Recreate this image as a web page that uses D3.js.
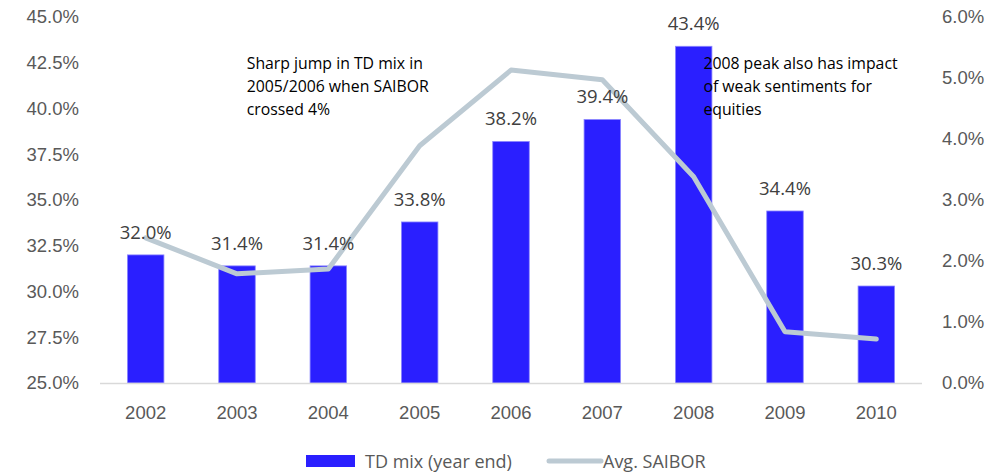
<!DOCTYPE html>
<html>
<head>
<meta charset="utf-8">
<script src="https://cdn.jsdelivr.net/npm/d3@7"></script>
<style>
  body { margin: 0; background: #fff; }
  svg { display: block; font-family: "Open Sans", "Liberation Sans", sans-serif; }
</style>
</head>
<body>
<svg id="chart" width="999" height="472"></svg>
<script>
var years = ["2002", "2003", "2004", "2005", "2006", "2007", "2008", "2009", "2010"];
var tdMix = [32.0, 31.4, 31.4, 33.8, 38.2, 39.4, 43.4, 34.4, 30.3];
var saibor = [2.38, 1.79, 1.87, 3.89, 5.13, 4.97, 3.38, 0.84, 0.72];
var leftTicks = [25, 27.5, 30, 32.5, 35, 37.5, 40, 42.5, 45];
var rightTicks = [0, 1, 2, 3, 4, 5, 6];
var notes = [
  {year: "2003", lines: ["Sharp jump in TD mix in", "2005/2006 when SAIBOR", "crossed 4%"]},
  {year: "2008", lines: ["2008 peak also has impact", "of weak sentiments for", "equities"]}
];

var BAR_COLOR = "#2a1fff";
var LINE_COLOR = "#bccad3";
var FS = "18.5px";

var svg = d3.select("#chart");
var m = {left: 100, right: 922, top: 17, bottom: 383};

var x = d3.scaleBand().domain(years).range([m.left, m.right]).paddingInner(0.6).paddingOuter(0.3);
var yL = d3.scaleLinear().domain([25, 45]).range([m.bottom, m.top]);
var yR = d3.scaleLinear().domain([0, 6]).range([m.bottom, m.top]);
var pct = function(d){ return d.toFixed(1) + "%"; };

// left axis
var axL = svg.append("g").attr("transform", "translate(" + (m.left - 21) + ",0)")
  .call(d3.axisLeft(yL).tickValues(leftTicks).tickSize(0).tickFormat(pct));
axL.select(".domain").remove();
axL.selectAll("text").attr("fill", "#595959").style("font-size", FS).attr("x", 0);

// right axis
var axR = svg.append("g").attr("transform", "translate(" + (m.right + 20) + ",0)")
  .call(d3.axisRight(yR).tickValues(rightTicks).tickSize(0).tickFormat(pct));
axR.select(".domain").remove();
axR.selectAll("text").attr("fill", "#595959").style("font-size", FS).attr("x", 0);

// bars
svg.selectAll("rect.bar").data(tdMix).enter().append("rect")
  .attr("class", "bar")
  .attr("x", function(d, i){ return x(years[i]); })
  .attr("width", x.bandwidth())
  .attr("y", function(d){ return yL(d); })
  .attr("height", function(d){ return m.bottom - yL(d); })
  .attr("fill", BAR_COLOR)
  .attr("stroke", "#8d88ff").attr("stroke-width", 0.8);

// baseline
svg.append("line").attr("x1", m.left).attr("x2", m.right).attr("y1", m.bottom + 0.5).attr("y2", m.bottom + 0.5)
  .attr("stroke", "#d9d9d9").attr("stroke-width", 1.5);

// x axis labels
var axB = svg.append("g").attr("transform", "translate(0," + (m.bottom + 20) + ")")
  .call(d3.axisBottom(x).tickSize(0));
axB.select(".domain").remove();
axB.selectAll("text").attr("fill", "#595959").style("font-size", FS);

// saibor line
var line = d3.line()
  .x(function(d, i){ return x(years[i]) + x.bandwidth() / 2; })
  .y(function(d){ return yR(d); });
svg.append("path").datum(saibor).attr("d", line)
  .attr("fill", "none").attr("stroke", LINE_COLOR).attr("stroke-width", 5)
  .attr("stroke-linejoin", "round").attr("stroke-linecap", "round");

// bar value labels
svg.selectAll("text.val").data(tdMix).enter().append("text")
  .attr("class", "val")
  .attr("x", function(d, i){ return x(years[i]) + x.bandwidth() / 2; })
  .attr("y", function(d){ return yL(d) - 16; })
  .attr("text-anchor", "middle")
  .attr("fill", "#404040").style("font-size", FS)
  .text(pct);

// annotations
notes.forEach(function(n){
  var nx = x(n.year) + 28;
  var t = svg.append("text").attr("fill", "#000").style("font-size", "15.8px");
  n.lines.forEach(function(l, i){
    t.append("tspan").attr("x", nx).attr("y", 69 + i * 23).text(l);
  });
});

// legend
var lg = svg.append("g").attr("transform", "translate(0,461)");
lg.append("rect").attr("x", 306).attr("y", -6).attr("width", 49).attr("height", 12).attr("fill", BAR_COLOR);
lg.append("text").attr("x", 365).attr("y", 6.5).attr("fill", "#595959").style("font-size", "18px").text("TD mix (year end)");
lg.append("line").attr("x1", 549).attr("x2", 601).attr("y1", 0).attr("y2", 0)
  .attr("stroke", LINE_COLOR).attr("stroke-width", 5).attr("stroke-linecap", "round");
lg.append("text").attr("x", 603).attr("y", 6.5).attr("fill", "#595959").style("font-size", "18px").text("Avg. SAIBOR");
</script>
</body>
</html>
